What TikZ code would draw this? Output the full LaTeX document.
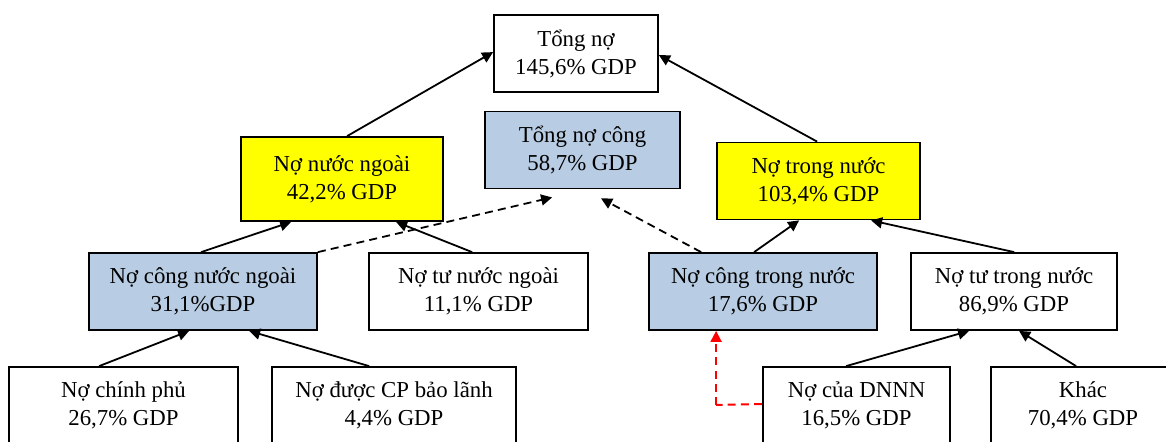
\documentclass[tikz,border=0pt]{standalone}
\usepackage{fontspec}
\setmainfont{Liberation Serif}
\usetikzlibrary{arrows.meta,calc}
\definecolor{boxblue}{HTML}{B8CCE4}
\definecolor{boxyellow}{HTML}{FFFF00}
\definecolor{reddash}{HTML}{FF0000}
\begin{document}
\begin{tikzpicture}[x=0.5pt,y=-0.5pt,
  box/.style={draw=black,line width=0.9pt,inner sep=0pt,align=center,
    font=\fontsize{11.4pt}{14pt}\selectfont,minimum height=38.5pt},
  bluebox/.style={box,fill=boxblue},
  yellowbox/.style={box,fill=boxyellow},
  whitebox/.style={box,fill=white},
  conn/.style={line width=0.9pt,-{Triangle[length=5.5pt,width=5.5pt]}},
  dconn/.style={conn,dash pattern=on 4pt off 2.6pt},
  rline/.style={line width=1pt,dash pattern=on 4pt off 2.6pt,draw=reddash},
  rconn/.style={rline,-{Triangle[length=5.5pt,width=5.5pt,fill=reddash]}}]
\useasboundingbox (0,0) rectangle (1166,441);
\clip (0,0) rectangle (1166,441);
\fill[white] (0,0) rectangle (1166,441);

\node[whitebox,minimum width=82pt] (tong) at (576,53.5) {Tổng nợ\\145,6\% GDP};
\node[yellowbox,minimum width=101pt,minimum height=42pt] (nnn) at (342,179) {Nợ nước ngoài\\42,2\% GDP};
\node[bluebox,minimum width=97.5pt] (tnc) at (582.5,150) {Tổng nợ công\\58,7\% GDP};
\node[yellowbox,minimum width=101.5pt] (ntn) at (818.5,181) {Nợ trong nước\\103,4\% GDP};
\node[bluebox,minimum width=114pt] (ncnn) at (203,291.5) {Nợ công nước ngoài\\31,1\%GDP};
\node[whitebox,minimum width=109.5pt] (ntnn) at (478.5,291.5) {Nợ tư nước ngoài\\11,1\% GDP};
\node[bluebox,minimum width=114pt] (nctn) at (763,291.5) {Nợ công trong nước\\17,6\% GDP};
\node[whitebox,minimum width=103pt] (nttn) at (1014,291.5) {Nợ tư trong nước\\86,9\% GDP};
\node[whitebox,minimum width=114.5pt] (ncp) at (123.5,405.5) {Nợ chính phủ\\26,7\% GDP};
\node[whitebox,minimum width=122pt] (ndcp) at (394,405.5) {Nợ được CP bảo lãnh\\4,4\% GDP};
\node[whitebox,minimum width=93.5pt] (dnnn) at (856.5,405.5) {Nợ của DNNN\\16,5\% GDP};
\node[whitebox,minimum width=92pt] (khac) at (1083,405.5) {Khác\\70,4\% GDP};

\draw[conn] ($(ncnn.north west)+(113,0)$) -- ($(nnn.south west)+(51,0)$);
\draw[conn] ($(ntnn.north west)+(104,0)$) -- ($(nnn.south west)+(156,0)$);
\draw[conn] ($(nnn.north west)+(107,0)$) -- ($(tong.north west)+(0,38)$);
\draw[conn] ($(ntn.north west)+(101,0)$) -- ($(tong.north east)+(0,41)$);
\draw[conn] ($(nctn.north west)+(106,0)$) -- ($(ntn.south west)+(83,0)$);
\draw[conn] ($(nttn.north west)+(104,0)$) -- ($(ntn.south west)+(155,0)$);
\draw[conn] ($(ncp.north west)+(91,0)$) -- ($(ncnn.south west)+(101,0)$);
\draw[conn] ($(ndcp.north west)+(98,0)$) -- ($(ncnn.south west)+(161,0)$);
\draw[conn] ($(dnnn.north west)+(84,0)$) -- ($(nttn.south west)+(59,0)$);
\draw[conn] ($(khac.north west)+(86,0)$) -- ($(nttn.south west)+(109,0)$);
\draw[dconn] (ncnn.north east) -- ($(tnc.south west)+(68,8)$);
\draw[dconn] ($(nctn.north west)+(53,0)$) -- ($(tnc.south west)+(117,9)$);
\coordinate (bend) at ($(nctn.south west)+(68,74)$);
\draw[rline] ($(dnnn.west)+(0,-1.5)$) -- (bend);
\draw[rconn] (bend) -- ($(nctn.south west)+(68,0)$);
\end{tikzpicture}
\end{document}
